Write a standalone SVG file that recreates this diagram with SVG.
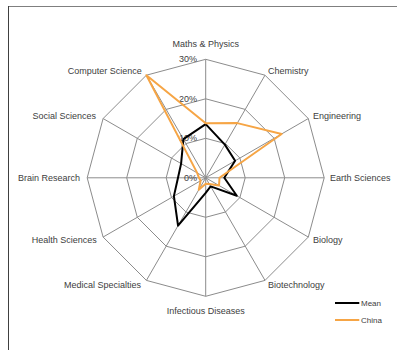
<svg xmlns="http://www.w3.org/2000/svg" width="397" height="350" viewBox="0 0 397 350">
<style>
.grid{fill:none;stroke:#8c8c8c;stroke-width:1}
.lbl{font-family:"Liberation Sans",Arial,sans-serif;font-size:9px;fill:#404040}
.leg{font-family:"Liberation Sans",Arial,sans-serif;font-size:8px;fill:#404040}
.mean{fill:none;stroke:#000;stroke-width:2;stroke-linejoin:round}
.china{fill:none;stroke:#f6a545;stroke-width:2;stroke-linejoin:round}
</style>
<rect width="397" height="350" fill="#fff"/>
<g id="frame">
<line x1="8.5" y1="6.5" x2="397" y2="6.5" stroke="#7f7f7f" stroke-width="1"/>
<line x1="8.5" y1="6" x2="8.5" y2="350" stroke="#404040" stroke-width="1"/>
</g>
<g id="grid">
<polygon class="grid" points="205.7,59.3 265.0,75.2 308.3,118.55 324.2,177.8 308.3,237.05 265.0,280.4 205.7,296.3 146.4,280.4 103.1,237.05 87.2,177.8 103.1,118.55 146.4,75.2"/>
<polygon class="grid" points="205.7,98.8 245.2,109.4 274.1,138.3 284.7,177.8 274.1,217.3 245.2,246.2 205.7,256.8 166.2,246.2 137.3,217.3 126.7,177.8 137.3,138.3 166.2,109.4"/>
<polygon class="grid" points="205.7,138.3 225.45,143.6 239.9,158.05 245.2,177.8 239.9,197.55 225.45,212.0 205.7,217.3 185.95,212.0 171.5,197.55 166.2,177.8 171.5,158.05 185.95,143.6"/>
<path class="grid" d="M205.7,59.3 V296.3 M265.0,75.2 L146.4,280.4 M308.3,118.55 L103.1,237.05 M324.2,177.8 H87.2 M308.3,237.05 L103.1,118.55 M265.0,280.4 L146.4,75.2"/>
</g>
<g id="scale">
<text class="lbl" x="197" y="62" text-anchor="end">30%</text>
<text class="lbl" x="197" y="101.5" text-anchor="end">20%</text>
<text class="lbl" x="197" y="141" text-anchor="end">10%</text>
<text class="lbl" x="197" y="181" text-anchor="end">0%</text>
</g>
<g id="axis-labels">
<text class="lbl" x="205.7" y="47" text-anchor="middle">Maths &amp; Physics</text>
<text class="lbl" x="268" y="74">Chemistry</text>
<text class="lbl" x="313" y="119">Engineering</text>
<text class="lbl" x="330" y="181">Earth Sciences</text>
<text class="lbl" x="313" y="243">Biology</text>
<text class="lbl" x="268" y="288">Biotechnology</text>
<text class="lbl" x="205.7" y="314" text-anchor="middle">Infectious Diseases</text>
<text class="lbl" x="141" y="288" text-anchor="end">Medical Specialties</text>
<text class="lbl" x="96.7" y="243" text-anchor="end">Health Sciences</text>
<text class="lbl" x="80" y="181" text-anchor="end">Brain Research</text>
<text class="lbl" x="96" y="119" text-anchor="end">Social Sciences</text>
<text class="lbl" x="141.7" y="74" text-anchor="end">Computer Science</text>
</g>
<g id="series-mean">
<polygon class="mean" points="205.7,124.1 224.85,144.6 235.1,160.8 224.3,177.8 236.8,195.8 210.65,186.4 205.7,192.8 178.05,225.7 173.9,196.15 178.0,177.8 181.1,163.6 183.4,139.2"/>
</g>
<g id="series-china">
<polygon class="china" points="205.7,123.3 237.3,123.1 281.65,133.95 219.5,177.8 219.0,185.5 209.25,183.95 205.7,183.7 198.8,189.75 200.6,180.75 199.0,177.8 197.15,172.85 146.4,75.2"/>
</g>
<g id="legend">
<line x1="335" y1="303" x2="359.3" y2="303" stroke="#000" stroke-width="2"/>
<text class="leg" x="361" y="306">Mean</text>
<line x1="335" y1="320" x2="359.3" y2="320" stroke="#f6a545" stroke-width="2"/>
<text class="leg" x="361" y="323">China</text>
</g>
</svg>
